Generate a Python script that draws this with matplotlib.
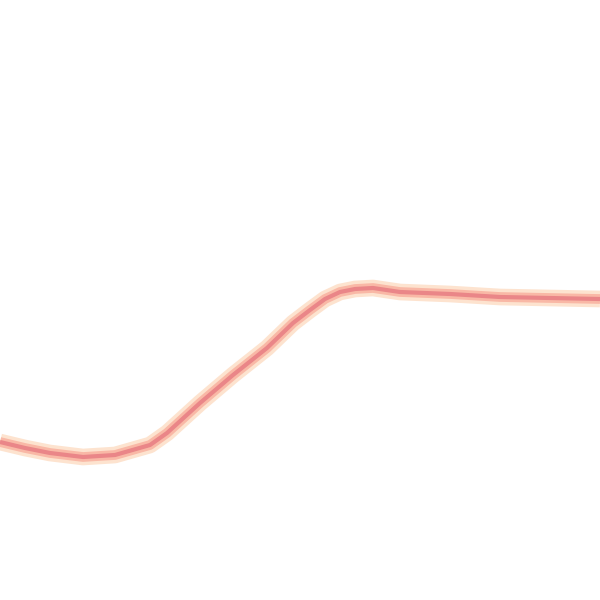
import matplotlib
matplotlib.use('Agg')

import matplotlib.pyplot as plt

# === Data: trace position in picture units (x right, y down) ===
x_vals = [0, 25, 50, 83, 115, 150, 167, 200, 233, 267, 293, 310, 325, 340, 355, 373, 400, 450, 500, 550, 600]
y_vals = [442, 448, 453, 457, 455, 445, 433, 403, 375, 348, 323, 310, 299, 292, 289, 288, 292, 294, 297, 298, 299]

fig = plt.figure(figsize=(6, 6), dpi=100)
ax = fig.add_axes([0, 0, 1, 1])

# soft halo, then a stronger core
ax.plot(x_vals, y_vals, color="#fde3cf", lw=12, solid_capstyle="butt")
ax.plot(x_vals, y_vals, color="#f9b8a6", lw=7, solid_capstyle="butt")
ax.plot(x_vals, y_vals, color="#ea8688", lw=3, solid_capstyle="butt")

ax.set_xlim(0, 600)
ax.set_ylim(600, 0)
ax.axis("off")

plt.savefig("out.png", dpi=100)
